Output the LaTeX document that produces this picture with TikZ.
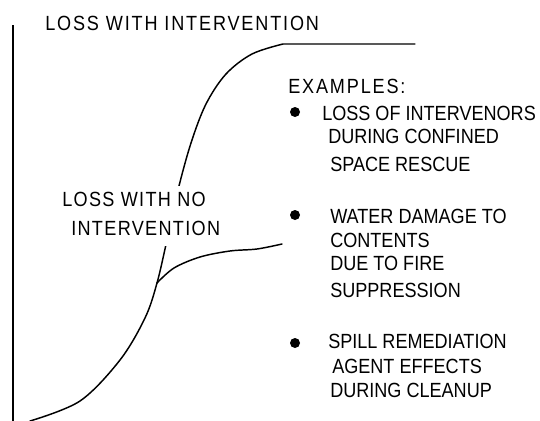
\documentclass[tikz,border=0pt]{standalone}
\usepackage{fontspec}
\setmainfont[FakeStretch=0.88]{Liberation Sans}
\newfontfamily\widefont[FakeStretch=0.88,LetterSpace=6.5]{Liberation Sans}
\newfontfamily\widerfont[FakeStretch=0.88,LetterSpace=9]{Liberation Sans}
\begin{document}
\begin{tikzpicture}[x=0.75pt,y=-0.75pt,
  lbl/.style={anchor=base west,inner sep=0pt,font=\fontsize{15.4pt}{18pt}\selectfont},
  widelbl/.style={lbl,font=\fontsize{15.4pt}{18pt}\widefont},
  widerlbl/.style={lbl,font=\fontsize{15.4pt}{18pt}\widerfont},
  backed/.style={fill=white,inner xsep=3pt,inner ysep=4pt,text height=11pt,text depth=4pt},
  curve/.style={line width=1.1pt,line join=round,line cap=round},
  bul/.style={circle,fill=black,inner sep=0pt,minimum size=7.5pt}]
\useasboundingbox (0,0) rectangle (540,421);
% vertical loss axis
\draw[line width=1.5pt] (13,25) -- (13,421);
% point where the two loss curves separate
\coordinate (split) at (157,283);
% loss with intervention: rises past the split and levels off high
\draw[curve] plot[smooth,tension=0.55] coordinates {(30,421) (80,401) (120,360) (145,318) (split)
  (167,240) (178,190) (191,143) (206,104) (226,74) (252,54) (283,44)} -- (415,44);
% loss with no intervention: branches off and levels lower
\draw[curve] plot[smooth,tension=0.55] coordinates {(split) (174,268) (200,257) (230,251) (257,249) (282,244)};
% curve labels (white backing hides the curve behind the text)
\node[widerlbl] (top) at (45,31) {LOSS WITH INTERVENTION};
\node[widelbl,backed] (no1) at (58,206) {LOSS WITH NO};
\node[widelbl,backed] (no2) at (67,235) {INTERVENTION};
% examples list
\node[widerlbl] (ex) at (288,93) {EXAMPLES:};
\node[bul] (b1) at (295,112) {};
\node[lbl] (a1) at (322,120) {LOSS OF INTERVENORS};
\node[lbl] (a2) at (328,143) {DURING CONFINED};
\node[lbl] (a3) at (330,171) {SPACE RESCUE};
\node[bul] (b2) at (295,215) {};
\node[lbl] (c1) at (330,223) {WATER DAMAGE TO};
\node[lbl] (c2) at (330,247) {CONTENTS};
\node[lbl] (c3) at (330,270) {DUE TO FIRE};
\node[lbl] (c4) at (330,297) {SUPPRESSION};
\node[bul] (b3) at (295,343) {};
\node[lbl] (d1) at (328,348) {SPILL REMEDIATION};
\node[lbl] (d2) at (332,373) {AGENT EFFECTS};
\node[lbl] (d3) at (330,397) {DURING CLEANUP};
\end{tikzpicture}
\end{document}
